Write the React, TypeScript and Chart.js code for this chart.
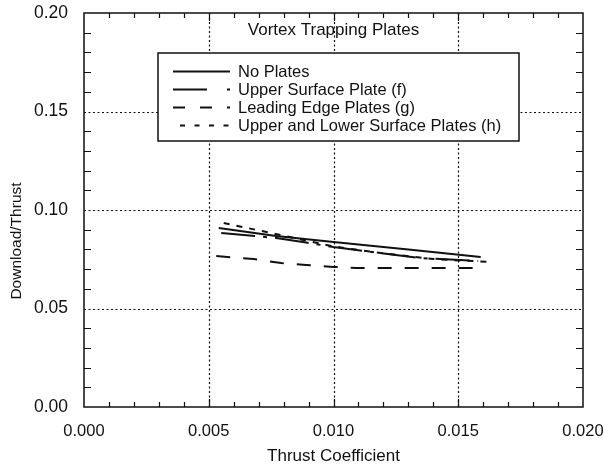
import React, { useEffect, useRef } from "react";
import { Chart, registerables } from "chart.js";

Chart.register(...registerables);

// ---- data ----
const noPlatesX = [0.0054, 0.0077, 0.01, 0.013, 0.0159];
const noPlatesY = [0.0909, 0.0868, 0.0838, 0.08, 0.0761];

const upperSurfaceX = [0.0055, 0.0077, 0.0089, 0.01, 0.0118, 0.0135, 0.0158];
const upperSurfaceY = [0.0883, 0.0858, 0.0835, 0.0812, 0.0782, 0.0756, 0.0741];

const leadingEdgeX = [0.0053, 0.0068, 0.0079, 0.0089, 0.01, 0.0109, 0.0158];
const leadingEdgeY = [0.0766, 0.0751, 0.0731, 0.0721, 0.0711, 0.0706, 0.0706];

const upperLowerX = [0.0056, 0.0075, 0.0087, 0.01, 0.012, 0.014, 0.0163];
const upperLowerY = [0.0934, 0.0883, 0.085, 0.0815, 0.078, 0.0751, 0.0736];

const seriesLabels = [
  "No Plates",
  "Upper Surface Plate (f)",
  "Leading Edge Plates (g)",
  "Upper and Lower Surface Plates (h)",
];
const xTickValues = [0, 0.005, 0.01, 0.015, 0.02];
const yTickValues = [0, 0.05, 0.1, 0.15, 0.2];
const xTickLabels = ["0.000", "0.005", "0.010", "0.015", "0.020"];
const yTickLabels = ["0.00", "0.05", "0.10", "0.15", "0.20"];
const xMajor = [0.005, 0.01, 0.015];
const yMajor = [0.05, 0.1, 0.15];
const chartTitle = "Vortex Trapping Plates";
const xTitle = "Thrust Coefficient";
const yTitle = "Download/Thrust";

const FONT = "'Liberation Sans', Arial, Helvetica, sans-serif";
const INK = "#111";
const plotDashes = [[], [34, 8, 4, 8], [14, 13], [6, 7]];
const legendDashes = [[], [34, 20, 3, 100], [12, 15], [5, 9.5]];

const toPoints = (xs: number[], ys: number[]) => xs.map((x, i) => ({ x, y: ys[i] }));

const framePlugin = {
  id: "frameDecor",
  beforeDatasetsDraw(chart: any) {
    const { ctx, chartArea: a, scales } = chart;
    const x = scales.x;
    const y = scales.y;
    ctx.save();
    ctx.strokeStyle = INK;
    ctx.lineWidth = 1.2;
    ctx.setLineDash([2, 2.5]);
    for (const v of xMajor) {
      const px = Math.round(x.getPixelForValue(v)) + 0.5;
      ctx.beginPath();
      ctx.moveTo(px, a.top);
      ctx.lineTo(px, a.bottom);
      ctx.stroke();
    }
    for (const v of yMajor) {
      const py = Math.round(y.getPixelForValue(v)) + 0.5;
      ctx.beginPath();
      ctx.moveTo(a.left, py);
      ctx.lineTo(a.right, py);
      ctx.stroke();
    }
    ctx.restore();
  },
  afterDatasetsDraw(chart: any) {
    const { ctx, chartArea: a, scales } = chart;
    const x = scales.x;
    const y = scales.y;
    ctx.save();
    ctx.setLineDash([]);
    ctx.strokeStyle = INK;
    ctx.lineWidth = 1.5;
    ctx.strokeRect(a.left, a.top, a.right - a.left, a.bottom - a.top);

    ctx.lineWidth = 1.2;
    for (let i = 1; i < 20; i++) {
      const px = Math.round(x.getPixelForValue(i * 0.001)) + 0.5;
      const len = i % 5 === 0 ? 8 : 5;
      ctx.beginPath();
      ctx.moveTo(px, a.bottom);
      ctx.lineTo(px, a.bottom - len);
      ctx.moveTo(px, a.top);
      ctx.lineTo(px, a.top + len);
      ctx.stroke();
    }
    for (let i = 1; i < 20; i++) {
      if (i % 5 === 0) continue;
      const py = Math.round(y.getPixelForValue(i * 0.01)) + 0.5;
      ctx.beginPath();
      ctx.moveTo(a.left, py);
      ctx.lineTo(a.left + 7, py);
      ctx.moveTo(a.right, py);
      ctx.lineTo(a.right - 7, py);
      ctx.stroke();
    }

    ctx.fillStyle = INK;
    ctx.font = `17px ${FONT}`;
    ctx.textAlign = "center";
    ctx.textBaseline = "alphabetic";
    ctx.fillText(chartTitle, (a.left + a.right) / 2, 35);

    const bx = 158, by = 53, bw = 361, bh = 88;
    ctx.fillStyle = "#fff";
    ctx.fillRect(bx, by, bw, bh);
    ctx.lineWidth = 1.5;
    ctx.strokeStyle = INK;
    ctx.strokeRect(bx, by, bw, bh);
    ctx.font = `16.5px ${FONT}`;
    ctx.textAlign = "left";
    for (let i = 0; i < seriesLabels.length; i++) {
      const base = 77 + i * 18;
      const ly = base - 5.5;
      ctx.lineWidth = 2;
      ctx.setLineDash(legendDashes[i]);
      ctx.beginPath();
      ctx.moveTo(i === 3 ? 180 : 173, ly);
      ctx.lineTo(230, ly);
      ctx.stroke();
      ctx.setLineDash([]);
      ctx.fillStyle = INK;
      ctx.fillText(seriesLabels[i], 238, base);
    }

    ctx.font = `17px ${FONT}`;
    ctx.textAlign = "center";
    ctx.textBaseline = "alphabetic";
    ctx.fillText(xTitle, (a.left + a.right) / 2, 461);

    ctx.save();
    ctx.translate(21, 241);
    ctx.rotate(-Math.PI / 2);
    ctx.font = `15.5px ${FONT}`;
    ctx.fillText(yTitle, 0, 0);
    ctx.restore();

    ctx.restore();
  },
};

export default function App() {
  const canvasRef = useRef<HTMLCanvasElement | null>(null);

  useEffect(() => {
    document.body.style.margin = "0";
    const canvas = canvasRef.current;
    if (!canvas) return;
    const chart = new Chart(canvas, {
      type: "line",
      data: {
        datasets: [
          { label: seriesLabels[0], data: toPoints(noPlatesX, noPlatesY) },
          { label: seriesLabels[1], data: toPoints(upperSurfaceX, upperSurfaceY) },
          { label: seriesLabels[2], data: toPoints(leadingEdgeX, leadingEdgeY) },
          { label: seriesLabels[3], data: toPoints(upperLowerX, upperLowerY) },
        ].map((d, i) => ({
          ...d,
          borderColor: INK,
          borderWidth: 2,
          borderDash: plotDashes[i],
          pointRadius: 0,
          tension: 0,
          fill: false,
        })),
      },
      options: {
        animation: false,
        responsive: true,
        maintainAspectRatio: false,
        layout: { padding: { top: 13, right: 21, left: 0, bottom: 0 } },
        plugins: {
          legend: { display: false },
          tooltip: { enabled: false },
          title: { display: false },
        },
        scales: {
          x: {
            type: "linear",
            min: 0,
            max: 0.02,
            grid: { display: false, drawTicks: true, tickLength: 15 },
            border: { display: false },
            afterFit: (s: any) => {
              s.height = 63;
            },
            afterBuildTicks: (s: any) => {
              s.ticks = xTickValues.map((v) => ({ value: v }));
            },
            ticks: {
              color: INK,
              padding: 0,
              maxRotation: 0,
              font: { family: FONT, size: 16.5 },
              callback: (_v: any, i: number) => xTickLabels[i],
            },
          },
          y: {
            type: "linear",
            min: 0,
            max: 0.2,
            grid: { display: false, drawTicks: true, tickLength: 16 },
            border: { display: false },
            afterFit: (s: any) => {
              s.width = 84;
            },
            afterBuildTicks: (s: any) => {
              s.ticks = yTickValues.map((v) => ({ value: v }));
            },
            ticks: {
              color: INK,
              padding: 0,
              font: { family: FONT, size: 17.5 },
              callback: (_v: any, i: number) => yTickLabels[i],
            },
          },
        },
      },
      plugins: [framePlugin],
    });
    return () => chart.destroy();
  }, []);

  return (
    <div style={{ width: 604, height: 470, position: "relative", background: "#fff" }}>
      <canvas ref={canvasRef} />
    </div>
  );
}
